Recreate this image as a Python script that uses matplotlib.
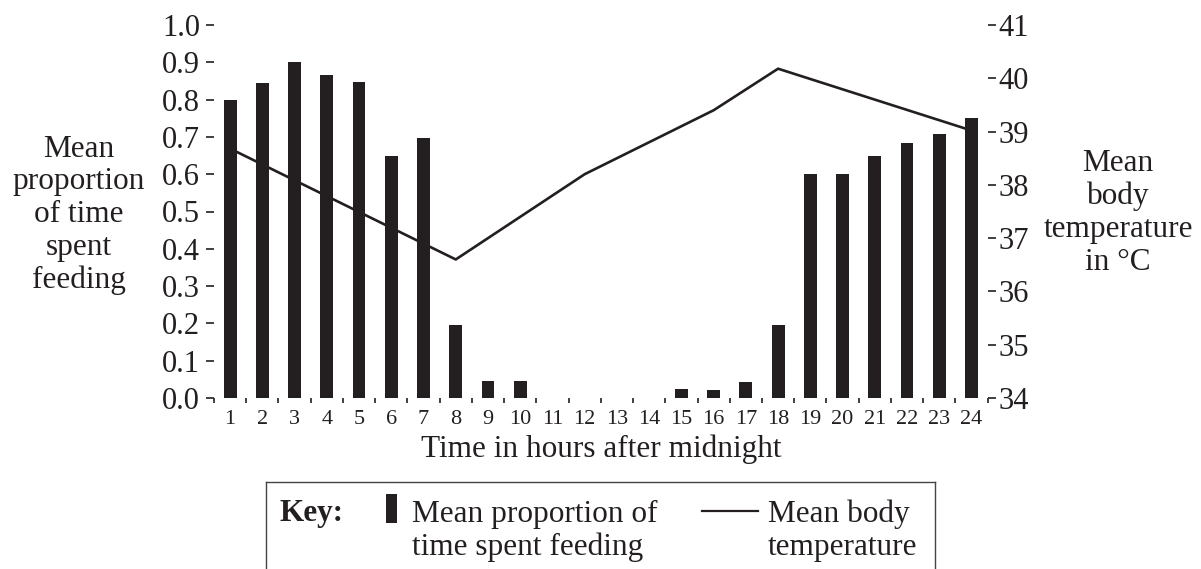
import numpy as np
from matplotlib import pyplot as plt
from matplotlib.lines import Line2D
from matplotlib.patches import Rectangle

plt.rcParams['font.family'] = ['Liberation Serif', 'DejaVu Serif']

# hourly feeding proportion (hours 1..24)
hours = np.arange(1, 25)
feeding = [0.80, 0.845, 0.90, 0.865, 0.848, 0.65, 0.697, 0.195, 0.046, 0.046,
           0.0, 0.0, 0.0, 0.0, 0.024, 0.021, 0.043, 0.195, 0.60, 0.60,
           0.65, 0.683, 0.707, 0.75]
# body temperature line vertices
temp_hours = [1, 8, 12, 16, 18, 24]
temp_vals = [38.68, 36.6, 38.2, 39.4, 40.18, 39.02]

y_ticks = np.round(np.arange(0, 1.01, 0.1), 1)
temp_ticks = list(range(34, 42))

ink = "#231f20"
W, H = 1201, 569

fig = plt.figure(figsize=(W / 100, H / 100), dpi=100)
ax = fig.add_axes([214 / W, (H - 398) / H, (987.6 - 214) / W, (398 - 25) / H])

ax.bar(hours, feeding, width=0.4, color=ink)
ax.set_xlim(0.5, 24.5)
ax.set_ylim(0, 1)
for s in ax.spines.values():
    s.set_visible(False)

ax.set_yticks(y_ticks)
ax.set_yticklabels(["{:.1f}".format(v) for v in y_ticks])
ax.tick_params(axis="y", length=6, width=1.2, color=ink, labelsize=22, labelcolor=ink, pad=4)
ax.set_xticks(hours)
ax.set_xticks(np.arange(0.5, 25, 1), minor=True)
ax.tick_params(axis="x", which="major", length=0, labelsize=16, labelcolor=ink, pad=9)
ax.tick_params(axis="x", which="minor", length=3.5, width=1.2, color=ink)

ax2 = ax.twinx()
ax2.plot(temp_hours, temp_vals, color=ink, lw=1.9)
ax2.set_ylim(34, 41)
ax2.set_yticks(temp_ticks)
ax2.tick_params(axis="y", length=6, width=1.2, color=ink, labelsize=22, labelcolor=ink, pad=2)
for s in ax2.spines.values():
    s.set_visible(False)

# axis titles
fig.text(79 / W, 1 - 215 / H, "Mean\nproportion\nof time\nspent\nfeeding",
         ha="center", va="center", multialignment="center",
         fontsize=22.5, color=ink, linespacing=1.17)
fig.text(1118 / W, 1 - 213 / H, "Mean\nbody\ntemperature\nin °C",
         ha="center", va="center", multialignment="center",
         fontsize=22.5, color=ink, linespacing=1.17)
fig.text(601 / W, 1 - 457 / H, "Time in hours after midnight",
         ha="center", va="baseline", fontsize=22.5, color=ink)

# key box (runs off the bottom edge)
top = 482
box_kw = dict(transform=fig.transFigure, color="#444444", lw=1.0)
fig.add_artist(Line2D([266 / W, 266 / W], [0, 1 - top / H], **box_kw))
fig.add_artist(Line2D([266 / W, 935 / W], [1 - top / H, 1 - top / H], **box_kw))
fig.add_artist(Line2D([935 / W, 935 / W], [0, 1 - top / H], **box_kw))

fig.text(280 / W, 1 - 521 / H, "Key:", ha="left", va="baseline",
         fontsize=22.5, fontweight="bold", color=ink)
fig.add_artist(Rectangle((386 / W, 1 - 523 / H), 11 / W, 29 / H,
                         transform=fig.transFigure, color=ink, lw=0))
fig.text(412 / W, 1 - 522 / H, "Mean proportion of", ha="left", va="baseline",
         fontsize=22.5, color=ink)
fig.text(412 / W, 1 - 555 / H, "time spent feeding", ha="left", va="baseline",
         fontsize=22.5, color=ink)
fig.add_artist(Line2D([702 / W, 758 / W], [1 - 511 / H, 1 - 511 / H],
                      transform=fig.transFigure, color=ink, lw=1.6))
fig.text(768 / W, 1 - 522 / H, "Mean body", ha="left", va="baseline",
         fontsize=22.5, color=ink)
fig.text(768 / W, 1 - 555 / H, "temperature", ha="left", va="baseline",
         fontsize=22.5, color=ink)

fig.savefig("out.png", dpi=100)
